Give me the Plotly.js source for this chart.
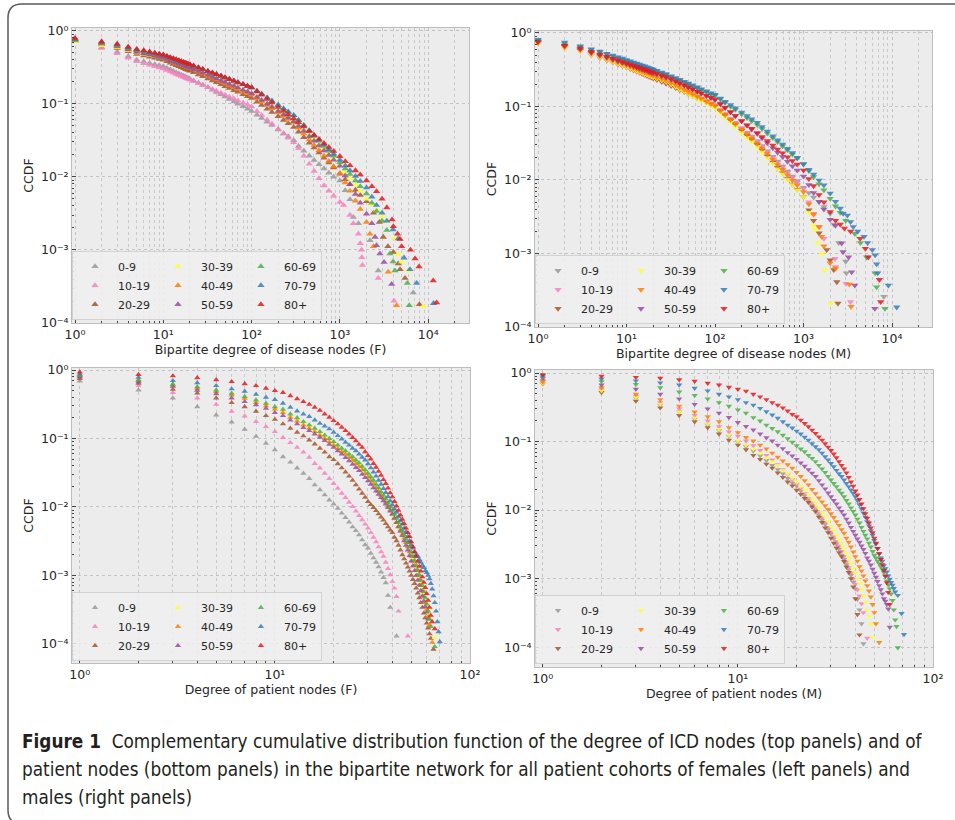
<!DOCTYPE html>
<html><head><meta charset="utf-8">
<script src="https://cdn.plot.ly/plotly-3.0.1.min.js"></script>
<style>html,body{margin:0;padding:0;background:#fff;}#chart{width:955px;height:820px;}</style>
</head><body><div id="chart"></div>
<script>
// ---------- categories / styling ----------
const ageGroups = ['0-9','10-19','20-29','30-39','40-49','50-59','60-69','70-79','80+'];
const groupColors = ['#999999','#f781bf','#a65628','#ffff33','#ff7f00','#984ea3','#4daf4a','#377eb8','#e41a1c'];

// ---------- shared degree grids ----------
const diseaseDeg = [1,2,3,4,5,6,7,8,9,10,11,12,13,14,15,16,17,18,19,20,22,25,28,32,36,40,45,50,56,63,70,80,90,100,115,130,150,170,200,230,260,300,340,390,450,510,580,660,750,850,1000,1150,1300,1500,1700,2000,2300,2600,3000,3400,3900];
const patientDeg = [1,2,3,4,5,6,7,8,9,10,11,12,13,14,15,16,17,18,19,20,21,22,23,24,25,26,27,28,29,30,31,32,33,34,35,36,37,38,39,40,41,42,43,44,45,46,47,48,49,50,51,52,53,54,55,56,57,58,59,60,61,62,63,64,65,66,67,68,69,70,71];

// ---------- Panel 1: disease nodes, females (main body on diseaseDeg + tail) ----------
const fDis00 = [0.759,0.589,0.513,0.445,0.398,0.377,0.36,0.346,0.334,0.324,0.307,0.292,0.279,0.267,0.257,0.248,0.24,0.232,0.225,0.219,0.207,0.193,0.181,0.167,0.155,0.144,0.134,0.125,0.116,0.107,0.10,0.0918,0.0851,0.0794,0.0706,0.0637,0.0565,0.0509,0.0444,0.0394,0.0356,0.0316,0.0263,0.0226,0.0194,0.0169,0.0148,0.0129,0.0113,0.01,0.0089,0.0065,0.0049];
const fDis00TailX = [1420,1620,2190,2720,6770];
const fDis00TailY = [0.0028,0.0023,0.00135,0.00052,0.00026];
const fDis10 = [0.724,0.575,0.49,0.425,0.38,0.358,0.34,0.325,0.313,0.302,0.288,0.275,0.265,0.255,0.246,0.238,0.231,0.225,0.219,0.213,0.203,0.191,0.18,0.168,0.157,0.149,0.14,0.132,0.124,0.117,0.11,0.103,0.0966,0.0912,0.0789,0.0697,0.0601,0.053,0.0448,0.0387,0.0341,0.0295,0.0245,0.0194,0.015,0.012,0.0095,0.0076,0.0064,0.0055,0.0045];
const fDis10TailX = [1100,1300,1420,1620,1700,1760,1770,1800,2720,4100];
const fDis10TailY = [0.0041,0.003,0.0023,0.00166,0.00123,0.001,0.00079,0.00062,0.00041,0.0002];
const fDis20 = [0.724,0.646,0.575,0.519,0.479,0.456,0.438,0.423,0.409,0.398,0.38,0.363,0.349,0.336,0.325,0.314,0.305,0.296,0.288,0.281,0.268,0.251,0.237,0.221,0.207,0.196,0.184,0.173,0.163,0.153,0.145,0.134,0.126,0.119,0.106,0.0957,0.0849,0.0767,0.067,0.0596,0.0538,0.0479,0.0411,0.0348,0.0292,0.025,0.0214,0.0182,0.0156,0.0134,0.011,0.0092,0.0079,0.0066,0.0056,0.0046];
const fDis20TailX = [2400,2800,3100,3500,4030,4580,4800,5460,7950];
const fDis20TailY = [0.0032,0.0024,0.0015,0.00112,0.00093,0.00065,0.00054,0.00041,0.00018];
const fDis30 = [0.708,0.631,0.589,0.538,0.501,0.481,0.464,0.449,0.437,0.427,0.408,0.393,0.378,0.366,0.354,0.344,0.334,0.325,0.317,0.31,0.296,0.279,0.265,0.248,0.233,0.221,0.207,0.196,0.185,0.174,0.164,0.153,0.144,0.136,0.123,0.112,0.101,0.092,0.0815,0.0734,0.067,0.0603,0.052,0.0442,0.0373,0.0321,0.0276,0.0237,0.0204,0.0176,0.0145,0.0117,0.0097,0.0078,0.0064,0.005,0.0042,0.0035,0.0029,0.00245];
const fDis30TailX = [4200,4560,5000,5950,8800];
const fDis30TailY = [0.00145,0.00087,0.00069,0.00052,0.00017];
const fDis40 = [0.741,0.661,0.603,0.551,0.513,0.489,0.469,0.453,0.439,0.427,0.408,0.391,0.376,0.363,0.351,0.34,0.33,0.321,0.313,0.305,0.292,0.274,0.26,0.242,0.228,0.215,0.202,0.191,0.179,0.169,0.159,0.148,0.14,0.132,0.118,0.107,0.0955,0.0865,0.0759,0.0678,0.0615,0.055,0.0467,0.0389,0.0322,0.0272,0.0231,0.0194,0.0164,0.0139,0.0112,0.0083,0.0064,0.0047,0.0036];
const fDis40TailX = [2000,2190,2400,3530,4390];
const fDis40TailY = [0.0024,0.00166,0.00112,0.0005,0.000174];
const fDis50 = [0.759,0.676,0.617,0.556,0.513,0.489,0.469,0.453,0.439,0.427,0.408,0.393,0.378,0.366,0.354,0.344,0.334,0.325,0.317,0.31,0.296,0.279,0.265,0.248,0.234,0.221,0.208,0.197,0.186,0.175,0.166,0.155,0.146,0.138,0.123,0.112,0.10,0.0906,0.0794,0.071,0.0644,0.0575,0.0498,0.0424,0.0359,0.031,0.0267,0.0229,0.0198,0.0171,0.0141,0.0104,0.0079,0.0058,0.0044,0.0031,0.0023];
const fDis50TailX = [2500,2600,2840,3160,3860];
const fDis50TailY = [0.0015,0.00115,0.00089,0.00068,0.00034];
const fDis60 = [0.74,0.676,0.631,0.577,0.537,0.515,0.497,0.481,0.469,0.457,0.439,0.423,0.408,0.395,0.384,0.373,0.364,0.355,0.347,0.34,0.326,0.308,0.294,0.277,0.262,0.25,0.238,0.226,0.215,0.204,0.195,0.184,0.174,0.166,0.148,0.135,0.12,0.109,0.0955,0.0853,0.0774,0.0692,0.0594,0.0502,0.0422,0.0361,0.031,0.0264,0.0226,0.0194,0.0158,0.013,0.0109,0.0089,0.0074,0.0059,0.0044,0.0034,0.0025,0.00186];
const fDis60TailX = [3690,4000,4200,5800,6100];
const fDis60TailY = [0.00089,0.00069,0.00052,0.00035,0.000174];
const fDis70 = [0.76,0.69,0.645,0.59,0.55,0.525,0.506,0.489,0.475,0.462,0.444,0.428,0.413,0.40,0.388,0.378,0.368,0.359,0.351,0.343,0.33,0.312,0.297,0.28,0.266,0.253,0.24,0.229,0.218,0.207,0.197,0.186,0.176,0.168,0.15,0.136,0.121,0.109,0.096,0.0857,0.0776,0.0692,0.0598,0.0509,0.0431,0.0372,0.0321,0.0275,0.0237,0.0205,0.017,0.0142,0.0122,0.0102,0.0087,0.0071,0.0053,0.0041];
const fDis70TailX = [3000,3400,4000,4580,5320,6200,7400,11500];
const fDis70TailY = [0.0032,0.0025,0.0019,0.00143,0.00078,0.00054,0.00035,0.000186];
const fDis80 = [0.79,0.71,0.66,0.60,0.56,0.536,0.514,0.497,0.481,0.468,0.449,0.432,0.417,0.404,0.392,0.38,0.371,0.361,0.352,0.345,0.331,0.313,0.297,0.28,0.265,0.253,0.24,0.228,0.217,0.205,0.195,0.184,0.174,0.166,0.147,0.132,0.116,0.104,0.090,0.080,0.0716,0.063,0.0557,0.0486,0.0422,0.0372,0.0328,0.0288,0.0254,0.0224,0.0191,0.0163,0.0143,0.0122,0.0107,0.0089,0.0074,0.0063,0.005,0.0038,0.0026];
const fDis80TailX = [4030,4500,4800,5000,6300,7100,7870,11400,12450];
const fDis80TailY = [0.0021,0.00166,0.0014,0.00112,0.001,0.00076,0.00059,0.00038,0.00019];

// ---------- Panel 2: disease nodes, males ----------
const mDis00 = [0.759,0.661,0.589,0.525,0.479,0.443,0.414,0.391,0.372,0.355,0.338,0.324,0.311,0.30,0.289,0.28,0.272,0.264,0.257,0.25,0.238,0.223,0.211,0.197,0.184,0.173,0.162,0.152,0.143,0.133,0.126,0.116,0.109,0.102,0.0889,0.0786,0.0681,0.0601,0.0509,0.0443,0.0391,0.0339,0.0292,0.0247,0.0208,0.0179,0.0153,0.0131,0.0112,0.0097,0.0079,0.0067,0.0058,0.005,0.0043,0.0035];
const mDis00TailX = [2200,2500,3000,3050,8100];
const mDis00TailY = [0.0025,0.0014,0.00078,0.00054,0.00026];
const mDis10 = [0.724,0.631,0.562,0.501,0.457,0.423,0.395,0.373,0.355,0.339,0.324,0.31,0.299,0.288,0.279,0.27,0.262,0.255,0.249,0.243,0.232,0.218,0.207,0.193,0.181,0.171,0.161,0.152,0.143,0.134,0.127,0.118,0.111,0.105,0.0904,0.0796,0.0686,0.0601,0.0507,0.0438,0.0385,0.0331,0.0284,0.024,0.0202,0.0173,0.0148,0.0126,0.0108,0.0093,0.0076,0.005,0.0035,0.0023,0.0016];
const mDis10TailX = [2270,2300,3020,3400];
const mDis10TailY = [0.00085,0.00066,0.00039,0.00022];
const mDis20 = [0.741,0.646,0.575,0.513,0.468,0.433,0.405,0.382,0.363,0.347,0.331,0.316,0.304,0.293,0.282,0.274,0.265,0.258,0.251,0.244,0.233,0.218,0.206,0.192,0.18,0.169,0.158,0.149,0.14,0.13,0.123,0.114,0.106,0.10,0.0859,0.0752,0.0643,0.0561,0.047,0.0403,0.0353,0.0302,0.0255,0.0212,0.0174,0.0147,0.0124,0.0104,0.0087,0.0074,0.0059,0.0039,0.0028,0.0019];
const mDis20TailX = [1830,2000,2200,2380,2450];
const mDis20TailY = [0.00112,0.00081,0.0006,0.00041,0.00021];
const mDis30 = [0.724,0.631,0.562,0.507,0.468,0.433,0.405,0.382,0.363,0.347,0.332,0.319,0.307,0.297,0.288,0.279,0.272,0.264,0.258,0.252,0.241,0.228,0.216,0.20,0.186,0.173,0.161,0.15,0.139,0.129,0.121,0.111,0.102,0.0955,0.0817,0.0713,0.0608,0.053,0.0442,0.0378,0.033,0.0282,0.024,0.02,0.0167,0.0141,0.012,0.0101,0.0086,0.0073,0.0059,0.0036,0.0024];
const mDis30TailX = [1350,1450,1600,1740,2040];
const mDis30TailY = [0.0021,0.0014,0.001,0.00059,0.00021];
const mDis40 = [0.741,0.646,0.589,0.531,0.49,0.453,0.424,0.40,0.38,0.363,0.348,0.334,0.322,0.311,0.301,0.292,0.284,0.277,0.27,0.264,0.252,0.238,0.226,0.21,0.195,0.183,0.17,0.159,0.148,0.137,0.129,0.118,0.109,0.102,0.0881,0.0773,0.0664,0.0581,0.0488,0.042,0.0368,0.0316,0.027,0.0227,0.019,0.0161,0.0138,0.0117,0.0099,0.0085,0.0069,0.0047,0.0034,0.0023];
const mDis40TailX = [1600,1700,2000,2300,3300,3450];
const mDis40TailY = [0.0017,0.00126,0.00074,0.00063,0.00038,0.00019];
const mDis50 = [0.776,0.676,0.603,0.543,0.501,0.466,0.439,0.416,0.396,0.38,0.366,0.352,0.34,0.33,0.321,0.312,0.305,0.297,0.29,0.284,0.274,0.259,0.247,0.232,0.218,0.206,0.193,0.182,0.172,0.161,0.152,0.142,0.133,0.126,0.11,0.0973,0.0843,0.0746,0.0635,0.0553,0.0491,0.0427,0.0372,0.0319,0.0272,0.0237,0.0206,0.0178,0.0155,0.0135,0.0112,0.0086,0.0067,0.0051,0.004,0.0029];
const mDis50TailX = [2300,2700,2800,3230,3500,3800,6400];
const mDis50TailY = [0.0024,0.00138,0.00105,0.00089,0.00056,0.00037,0.000178];
const mDis60 = [0.794,0.708,0.646,0.59,0.55,0.511,0.481,0.456,0.435,0.417,0.401,0.386,0.374,0.362,0.352,0.342,0.334,0.326,0.318,0.312,0.30,0.284,0.271,0.254,0.239,0.226,0.213,0.202,0.19,0.179,0.169,0.158,0.149,0.141,0.126,0.113,0.10,0.0906,0.0789,0.0702,0.0634,0.0562,0.0497,0.0432,0.0374,0.033,0.029,0.0255,0.0224,0.0198,0.0166,0.0133,0.011,0.0088,0.0073,0.0056,0.0044,0.0036,0.0028];
const mDis60TailX = [3800,4400,5170,6450,6700,8330];
const mDis60TailY = [0.00186,0.0014,0.00089,0.00054,0.00035,0.000178];
const mDis70 = [0.813,0.746,0.661,0.603,0.562,0.525,0.495,0.471,0.45,0.432,0.415,0.40,0.386,0.374,0.363,0.353,0.344,0.336,0.328,0.321,0.308,0.291,0.277,0.26,0.245,0.232,0.218,0.207,0.195,0.183,0.173,0.162,0.152,0.145,0.129,0.117,0.105,0.0948,0.0832,0.0743,0.0675,0.0603,0.053,0.046,0.0397,0.0348,0.0306,0.0267,0.0234,0.0201,0.0164,0.0138,0.0119,0.0099,0.0085,0.0066,0.0051,0.0041];
const mDis70TailX = [2800,3130,3400,3650,4100,4830,5300,6000,6450,6700,6900,9100,11300];
const mDis70TailY = [0.0035,0.0033,0.0027,0.0023,0.002,0.0017,0.0014,0.00112,0.00095,0.00072,0.00054,0.00037,0.000186];
const mDis80 = [0.759,0.676,0.617,0.556,0.513,0.477,0.449,0.426,0.406,0.389,0.374,0.361,0.348,0.338,0.328,0.319,0.312,0.304,0.297,0.291,0.28,0.265,0.253,0.237,0.221,0.208,0.195,0.183,0.172,0.16,0.151,0.14,0.131,0.123,0.108,0.0959,0.0839,0.0746,0.064,0.056,0.0499,0.0437,0.0387,0.034,0.0296,0.0262,0.0233,0.0205,0.0182,0.0163,0.0135,0.0104,0.0083,0.0063,0.005,0.0037,0.0028];
const mDis80TailX = [2600,2900,3400,4360,5000,5400,7200,7450];
const mDis80TailY = [0.0025,0.0022,0.002,0.0016,0.00117,0.00089,0.00044,0.00022];

// ---------- Panel 3: patient nodes, females (values at patientDeg) ----------
const fPat00 = [0.69,0.51,0.39,0.29,0.22,0.174,0.136,0.107,0.085,0.068,0.054,0.045,0.037,0.031,0.026,0.021,0.0178,0.015,0.0126,0.011,0.0095,0.0081,0.007,0.006,0.0051,0.0045,0.0039,0.0033,0.0028,0.0025,0.0021,0.0018,0.00155,0.00133,0.00112,0.00093,0.00078,0.00051,0.00034,null,null,0.00013];
const fPat10 = [0.78,0.59,0.47,0.39,0.315,0.25,0.213,0.176,0.149,0.126,0.103,0.087,0.074,0.063,0.053,0.043,0.037,0.031,0.026,0.022,0.0187,0.0158,0.0137,0.0117,0.0101,0.0087,0.0075,0.0065,0.0056,0.0049,0.0042,0.0036,0.0031,0.0026,0.0022,0.0019,0.00155,0.00126,0.00102,0.00081,0.00065,0.00049,0.0003,null,null,null,null,0.00013];
const fPat20 = [0.75,0.64,0.52,0.46,0.39,0.333,0.29,0.25,0.215,0.19,0.163,0.141,0.123,0.109,0.095,0.083,0.072,0.063,0.054,0.049,0.0427,0.0372,0.0324,0.0282,0.0245,0.0211,0.0182,0.0158,0.0138,0.012,0.0108,0.0098,0.0088,0.0079,0.0071,0.0064,0.0057,0.0051,0.0046,0.0042,0.0036,0.0032,0.00275,0.00234,0.002,0.00174,0.00151,0.00132,0.00115,0.001,0.00087,0.00076,0.00065,0.00055,0.00047,0.0004,0.00034,0.00028,0.00024,0.0002,0.00017,0.00014,0.00012,null,0.000083];
const fPat30 = [0.82,0.70,0.60,0.55,0.49,0.44,0.40,0.355,0.318,0.285,0.255,0.218,0.192,0.168,0.151,0.135,0.12,0.107,0.096,0.086,0.076,0.069,0.063,0.056,0.052,0.046,0.042,0.037,0.033,0.0296,0.0263,0.0234,0.0204,0.0181,0.0159,0.0141,0.0126,0.011,0.0096,0.0085,0.0074,0.0065,0.0056,0.0049,0.0043,0.0037,0.0032,0.0028,0.0024,0.0021,0.0018,0.00155,0.00133,0.00113,0.00095,0.0008,0.00067,0.00056,0.00047,0.0004,0.00033,0.00027,0.00022,null,null,0.000123];
const fPat40 = [0.83,0.70,0.60,0.54,0.48,0.43,0.385,0.335,0.30,0.268,0.238,0.203,0.179,0.157,0.141,0.126,0.112,0.10,0.089,0.08,0.071,0.064,0.059,0.053,0.048,0.043,0.039,0.035,0.031,0.0276,0.0245,0.0218,0.019,0.0169,0.0148,0.0132,0.0118,0.0103,0.009,0.0079,0.0069,0.006,0.0052,0.0046,0.004,0.0035,0.003,0.0026,0.0022,0.0019,0.0016,0.00138,0.00118,0.001,0.00085,0.00071,0.00059,0.00049,0.0004,0.00032,0.00025,0.00019,null,0.000105];
const fPat50 = [0.80,0.67,0.58,0.505,0.45,0.39,0.345,0.31,0.276,0.238,0.215,0.186,0.163,0.144,0.13,0.116,0.104,0.093,0.082,0.074,0.066,0.059,0.0525,0.047,0.042,0.0376,0.0338,0.030,0.0268,0.024,0.0214,0.019,0.017,0.0153,0.0137,0.0123,0.011,0.0098,0.0087,0.0078,0.0068,0.0059,0.0051,0.0044,0.0038,0.0032,0.00275,0.00234,0.00195,0.00162,0.00138,0.00117,0.001,0.00085,0.00072,0.0006,0.0005,0.00042,0.00035,0.00029,0.00023];
const fPat60 = [0.84,0.72,0.625,0.57,0.51,0.457,0.41,0.365,0.327,0.29,0.267,0.228,0.201,0.176,0.158,0.141,0.126,0.112,0.10,0.09,0.080,0.072,0.066,0.059,0.054,0.0485,0.044,0.039,0.0347,0.031,0.0275,0.0245,0.0214,0.019,0.0166,0.0148,0.0132,0.0115,0.0101,0.0089,0.0078,0.0068,0.0059,0.0051,0.0045,0.0039,0.0034,0.003,0.0026,0.0022,0.0019,0.00166,0.00141,0.0012,0.00102,0.00085,0.00071,0.00058,0.00047,0.00038,0.0003,0.00023,0.000178,null,null,0.000091];
const fPat70 = [0.87,0.78,0.70,0.65,0.59,0.53,0.49,0.44,0.40,0.37,0.326,0.285,0.252,0.228,0.209,0.186,0.166,0.152,0.138,0.123,0.11,0.098,0.088,0.080,0.072,0.066,0.059,0.053,0.0485,0.0427,0.0372,0.0324,0.0282,0.0245,0.0214,0.0186,0.0162,0.0141,0.0123,0.0107,0.0093,0.0083,0.0072,0.0063,0.0056,0.0049,0.0043,0.0037,0.0032,0.0028,0.0025,0.0022,0.002,0.0019,0.0017,0.00155,0.0014,0.0013,0.00117,0.0011,0.001,0.00089,0.00076,0.00063,0.0005,0.0004,0.0003,0.00021,0.00015,0.000107];
const fPat80 = [0.93,0.86,0.82,0.77,0.72,0.675,0.63,0.59,0.54,0.50,0.47,0.42,0.38,0.345,0.315,0.285,0.257,0.228,0.204,0.182,0.163,0.146,0.13,0.116,0.103,0.092,0.082,0.074,0.064,0.056,0.05,0.043,0.038,0.033,0.029,0.025,0.022,0.0188,0.016,0.014,0.012,0.0103,0.0089,0.0076,0.0066,0.0057,0.0049,0.0042,0.0037,0.0031,0.0026,0.0022,0.0019,0.0016,0.00135,0.00115,0.00095,0.00079,0.00066,0.00054,0.00043,0.00034,0.00026,0.00021,null,0.000166];

// ---------- Panel 4: patient nodes, males ----------
const mPat00 = [0.78,0.55,0.43,0.34,0.27,0.215,0.175,0.145,0.12,0.10,0.085,0.073,0.062,0.053,0.045,0.039,0.034,0.029,0.025,0.0224,0.019,0.0162,0.0138,0.0117,0.01,0.0085,0.0072,0.0062,0.0052,0.0045,0.0038,0.0032,0.0027,0.0022,0.0019,0.0016,0.00135,0.00112,0.00089,0.00071,0.0005,0.00035,0.00022,0.000112];
const mPat10 = [0.76,0.58,0.46,0.37,0.30,0.24,0.20,0.165,0.138,0.12,0.102,0.087,0.074,0.063,0.054,0.046,0.039,0.033,0.028,0.024,0.0204,0.0174,0.0148,0.0126,0.0107,0.0091,0.0078,0.0066,0.0056,0.0048,0.0041,0.0035,0.003,0.0025,0.0021,0.00174,0.00145,0.0012,0.001,0.00083,0.00069,0.00056,0.00043,0.00032,null,0.000135];
const mPat20 = [0.70,0.52,0.39,0.31,0.24,0.195,0.159,0.129,0.105,0.089,0.076,0.063,0.055,0.047,0.041,0.035,0.03,0.0257,0.0226,0.0195,0.017,0.0148,0.0129,0.0111,0.0095,0.0079,0.0066,0.0055,0.0047,0.0039,0.0033,0.0028,0.0024,0.0021,0.00178,0.00148,0.00123,0.001,0.00076,0.00051,0.0003,0.000151];
const mPat30 = [0.71,0.55,0.44,0.35,0.27,0.22,0.18,0.15,0.124,0.102,0.089,0.078,0.068,0.058,0.051,0.045,0.038,0.034,0.0295,0.0257,0.0224,0.0195,0.0166,0.0145,0.0126,0.0107,0.0091,0.0079,0.0068,0.0058,0.005,0.0043,0.0037,0.0032,0.00275,0.00234,0.002,0.0017,0.0014,0.0012,0.001,0.00085,0.0007,0.00056,0.00045,0.00035,0.00028,0.00022,0.00014];
const mPat40 = [0.74,0.61,0.49,0.41,0.33,0.27,0.23,0.195,0.16,0.135,0.115,0.102,0.089,0.078,0.068,0.059,0.052,0.046,0.041,0.0355,0.031,0.027,0.0234,0.02,0.0174,0.0151,0.0132,0.0116,0.0102,0.0089,0.0078,0.0068,0.006,0.0052,0.0046,0.0039,0.0034,0.0029,0.00245,0.0021,0.0018,0.0015,0.0013,0.0011,0.00093,0.00079,0.00066,0.00054,0.00042,0.00032,0.00022,null,0.000117];
const mPat50 = [0.84,0.67,0.58,0.49,0.42,0.35,0.30,0.26,0.225,0.19,0.166,0.148,0.129,0.114,0.102,0.089,0.079,0.069,0.062,0.055,0.049,0.0437,0.039,0.0347,0.031,0.027,0.0234,0.0204,0.0178,0.0157,0.0138,0.0123,0.0108,0.0096,0.0085,0.0074,0.0065,0.0056,0.0049,0.0043,0.0038,0.0034,0.003,0.00266,0.00234,0.002,0.0018,0.00158,0.00138,0.0012,0.00105,0.00091,0.00079,0.00069,0.0006,0.00051,0.00047,0.00042,0.00036,0.000195];
const mPat60 = [0.88,0.75,0.68,0.61,0.53,0.47,0.42,0.37,0.33,0.29,0.26,0.224,0.20,0.174,0.155,0.139,0.124,0.11,0.098,0.087,0.078,0.071,0.063,0.057,0.051,0.045,0.040,0.0355,0.031,0.0275,0.0245,0.022,0.0195,0.0176,0.0157,0.0138,0.0123,0.0108,0.0096,0.0085,0.0074,0.0065,0.0056,0.0049,0.0043,0.0038,0.0033,0.0029,0.0025,0.0022,0.002,0.0018,0.00166,0.0015,0.00138,0.00123,0.00107,0.00093,0.00081,0.00071,0.0006,0.00048,0.00035,0.00025,0.0002,0.000098];
const mPat70 = [0.92,0.82,0.77,0.72,0.67,0.60,0.55,0.49,0.45,0.41,0.37,0.34,0.305,0.273,0.244,0.219,0.195,0.174,0.158,0.142,0.129,0.116,0.105,0.093,0.084,0.076,0.068,0.060,0.054,0.048,0.043,0.038,0.034,0.031,0.0275,0.0245,0.022,0.0197,0.0176,0.0157,0.0138,0.012,0.0105,0.0091,0.0079,0.0068,0.0059,0.005,0.0043,0.0036,0.0032,0.00275,0.00234,0.002,0.0018,0.00155,0.0014,0.00125,0.0011,0.00098,0.00088,0.0008,0.00072,0.00064,null,0.00057,null,null,0.00031,null,0.000153];
const mPat80 = [0.95,0.90,0.865,0.84,0.80,0.76,0.71,0.67,0.62,0.58,0.546,0.49,0.45,0.41,0.37,0.34,0.31,0.28,0.25,0.23,0.206,0.184,0.165,0.147,0.132,0.117,0.105,0.093,0.083,0.074,0.066,0.058,0.051,0.045,0.040,0.035,0.030,0.0257,0.0224,0.019,0.0166,0.0143,0.0123,0.0105,0.0089,0.0076,0.0065,0.0055,0.0047,0.0039,0.0033,0.00275,0.0023,0.0019,0.0016,0.00132,0.0011,0.00087,0.00063,0.00042];

// ---------- tick labels ----------
const tickValsX4 = [1,10,100,1000,10000];
const tickTextX4 = ['10\u2070','10\u00b9','10\u00b2','10\u00b3','10\u2074'];
const tickValsX2 = [1,10,100];
const tickTextX2 = ['10\u2070','10\u00b9','10\u00b2'];
const tickValsY = [0.0001,0.001,0.01,0.1,1];
const tickTextY = ['10\u207b\u2074','10\u207b\u00b3','10\u207b\u00b2','10\u207b\u00b9','10\u2070'];

// ---------- build traces ----------
const fDisMain = [fDis00,fDis10,fDis20,fDis30,fDis40,fDis50,fDis60,fDis70,fDis80];
const fDisTX = [fDis00TailX,fDis10TailX,fDis20TailX,fDis30TailX,fDis40TailX,fDis50TailX,fDis60TailX,fDis70TailX,fDis80TailX];
const fDisTY = [fDis00TailY,fDis10TailY,fDis20TailY,fDis30TailY,fDis40TailY,fDis50TailY,fDis60TailY,fDis70TailY,fDis80TailY];
const mDisMain = [mDis00,mDis10,mDis20,mDis30,mDis40,mDis50,mDis60,mDis70,mDis80];
const mDisTX = [mDis00TailX,mDis10TailX,mDis20TailX,mDis30TailX,mDis40TailX,mDis50TailX,mDis60TailX,mDis70TailX,mDis80TailX];
const mDisTY = [mDis00TailY,mDis10TailY,mDis20TailY,mDis30TailY,mDis40TailY,mDis50TailY,mDis60TailY,mDis70TailY,mDis80TailY];
const fPat = [fPat00,fPat10,fPat20,fPat30,fPat40,fPat50,fPat60,fPat70,fPat80];
const mPat = [mPat00,mPat10,mPat20,mPat30,mPat40,mPat50,mPat60,mPat70,mPat80];

const traces = [];
function addPanel(p, xs, ys, symbol, legendId, msize) {
  for (let i = 0; i < 9; i++) {
    traces.push({
      type: 'scatter', mode: 'markers',
      x: xs[i], y: ys[i],
      xaxis: p === 1 ? 'x' : 'x' + p, yaxis: p === 1 ? 'y' : 'y' + p,
      name: ageGroups[i],
      legend: legendId,
      legendgroup: 'p' + p + 'c' + Math.floor(i / 3),
      marker: {symbol: symbol, size: msize, color: groupColors[i], opacity: 0.85, line: {width: 0}},
      hoverinfo: 'skip'
    });
  }
}
addPanel(1, fDisMain.map((m, i) => diseaseDeg.slice(0, m.length).concat(fDisTX[i])),
            fDisMain.map((m, i) => m.concat(fDisTY[i])), 'triangle-up', 'legend', 6.4);
addPanel(2, mDisMain.map((m, i) => diseaseDeg.slice(0, m.length).concat(mDisTX[i])),
            mDisMain.map((m, i) => m.concat(mDisTY[i])), 'triangle-down', 'legend2', 6.4);
addPanel(3, fPat.map(s => patientDeg.slice(0, s.length)), fPat, 'triangle-up', 'legend3', 5.5);
addPanel(4, mPat.map(s => patientDeg.slice(0, s.length)), mPat, 'triangle-down', 'legend4', 5.5);

// ---------- axes ----------
const W = 955, H = 820;
const tickFont = {family: 'DejaVu Sans, sans-serif', size: 12.5, color: '#262626'};
const titleFont = {family: 'DejaVu Sans, sans-serif', size: 12.5, color: '#262626'};
function minorVals(lo, hi) {
  const v = [];
  for (let e = lo; e < hi; e++) for (let k = 2; k <= 9; k++) v.push(k * Math.pow(10, e));
  return v;
}
function xAxis(px0, px1, rng, anchor, title, tv, tt, lo, hi, standoff) {
  return {
    type: 'log', domain: [px0 / W, px1 / W], range: rng, anchor: anchor,
    tickmode: 'array', tickvals: tv, ticktext: tt, tickfont: tickFont,
    ticks: 'inside', ticklen: 4, tickwidth: 1, tickcolor: '#444',
    showline: true, mirror: true, linecolor: '#bdbdbd', linewidth: 1,
    showgrid: true, gridcolor: '#c3c3c3', gridwidth: 1, griddash: 'dot', zeroline: false,
    title: {text: title, font: titleFont, standoff: standoff},
    minor: {tickmode: 'array', tickvals: minorVals(lo, hi), ticks: 'inside', ticklen: 2.5, tickcolor: '#444',
            showgrid: true, gridcolor: '#c9c9c9', gridwidth: 1, griddash: 'dot'}
  };
}
function yAxis(py0, py1, rng, anchor, standoff) {
  return {
    type: 'log', domain: [1 - py1 / H, 1 - py0 / H], range: rng, anchor: anchor,
    tickmode: 'array', tickvals: tickValsY, ticktext: tickTextY, tickfont: tickFont,
    ticks: 'inside', ticklen: 4, tickwidth: 1, tickcolor: '#444',
    showline: true, mirror: true, linecolor: '#bdbdbd', linewidth: 1,
    showgrid: true, gridcolor: '#c3c3c3', gridwidth: 1, griddash: 'dot', zeroline: false,
    title: {text: 'CCDF', font: titleFont, standoff: standoff},
    minor: {tickmode: 'array', tickvals: minorVals(-5, 1), ticks: 'inside', ticklen: 2, tickcolor: '#444', showgrid: false}
  };
}
function legendAt(px, py) {
  return {
    x: px / W, y: 1 - py / H, xanchor: 'left', yanchor: 'bottom',
    orientation: 'h', traceorder: 'grouped', itemwidth: 36,
    bgcolor: 'rgba(240,240,240,0.85)', bordercolor: '#d2d2d2', borderwidth: 1,
    font: {family: 'DejaVu Sans, sans-serif', size: 11, color: '#262626'}
  };
}

const r = 14;
const framePath = 'M ' + (8/W) + ',' + (1 - (4 + r)/H) +
  ' Q ' + (8/W) + ',' + (1 - 4/H) + ' ' + ((8 + r)/W) + ',' + (1 - 4/H) +
  ' L 1.02,' + (1 - 4/H) + ' L 1.02,' + (1 - 824/H) +
  ' L ' + ((8 + r)/W) + ',' + (1 - 824/H) +
  ' Q ' + (8/W) + ',' + (1 - 824/H) + ' ' + (8/W) + ',' + (1 - (824 - r)/H) + ' Z';

const captionFont = {family: "'DejaVu Sans Condensed', 'Liberation Sans Narrow', 'DejaVu Sans', sans-serif", size: 18.8, color: '#231f20'};
const layout = {
  width: W, height: H,
  margin: {l: 0, r: 0, t: 0, b: 0},
  paper_bgcolor: '#ffffff', plot_bgcolor: '#ececec',
  showlegend: true,
  xaxis:  xAxis(72, 469, [-0.034, 4.462], 'y',  'Bipartite degree of disease nodes (F)', tickValsX4, tickTextX4, 0, 5, 3),
  yaxis:  yAxis(28, 323, [-4.0, 0.037], 'x', 4),
  xaxis2: xAxis(535, 932, [-0.034, 4.452], 'y2', 'Bipartite degree of disease nodes (M)', tickValsX4, tickTextX4, 0, 5, 3),
  yaxis2: yAxis(31, 327, [-4.0, 0.027], 'x2', 4),
  xaxis3: xAxis(72, 470, [-0.04, 2.0], 'y3', 'Degree of patient nodes (F)', tickValsX2, tickTextX2, 0, 2, 3),
  yaxis3: yAxis(368, 663, [-4.28, 0.03], 'x3', 4),
  xaxis4: xAxis(535, 933, [-0.04, 2.0], 'y4', 'Degree of patient nodes (M)', tickValsX2, tickTextX2, 0, 2, 3),
  yaxis4: yAxis(370, 667, [-4.29, 0.044], 'x4', 4),
  legend: legendAt(72, 320),
  legend2: legendAt(535, 324),
  legend3: legendAt(72, 661),
  legend4: legendAt(535, 664),
  shapes: [{type: 'path', xref: 'paper', yref: 'paper', path: framePath, line: {color: '#5a5a5a', width: 1.5}, fillcolor: 'rgba(0,0,0,0)', layer: 'below'}],
  annotations: [
    {xref: 'paper', yref: 'paper', x: 20/W, y: 1 - 741/H, xanchor: 'left', yanchor: 'middle', showarrow: false, align: 'left', font: captionFont,
     text: '<b>Figure 1</b>  Complementary cumulative distribution function of the degree of ICD nodes (top panels) and of'},
    {xref: 'paper', yref: 'paper', x: 20/W, y: 1 - 769/H, xanchor: 'left', yanchor: 'middle', showarrow: false, align: 'left', font: captionFont,
     text: 'patient nodes (bottom panels) in the bipartite network for all patient cohorts of females (left panels) and'},
    {xref: 'paper', yref: 'paper', x: 20/W, y: 1 - 797/H, xanchor: 'left', yanchor: 'middle', showarrow: false, align: 'left', font: captionFont,
     text: 'males (right panels)'}
  ]
};
Plotly.newPlot('chart', traces, layout, {displayModeBar: false, responsive: false});
</script>
</body></html>
